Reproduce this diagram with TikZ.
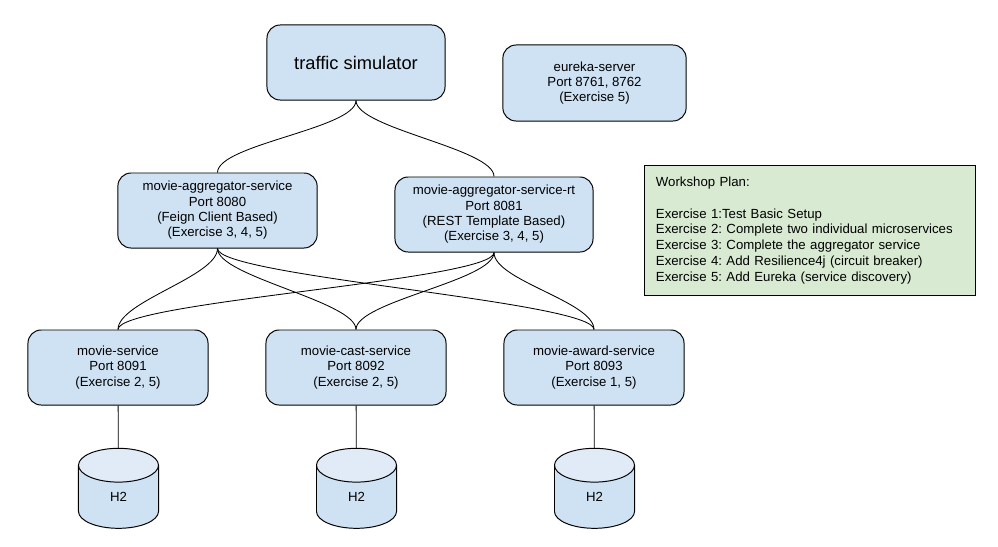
\documentclass[tikz,border=0pt]{standalone}
\usepackage{fontspec}
\setmainfont{Liberation Sans}
\usetikzlibrary{shapes.geometric}
\definecolor{boxblue}{RGB}{207,226,243}
\definecolor{dbtop}{RGB}{224,235,247}
\definecolor{plangreen}{RGB}{217,234,211}
\frenchspacing
\begin{document}
\begin{tikzpicture}[x=0.025cm,y=-0.025cm,
    svc/.style={draw,line width=0.7pt,rounded corners=0.33cm,fill=boxblue,align=center,
      font=\fontsize{9.4}{10.9}\selectfont,inner sep=0pt},
    db/.style={draw,line width=0.7pt,cylinder,shape border rotate=90,aspect=2,
      cylinder uses custom fill,cylinder body fill=boxblue,cylinder end fill=dbtop,
      minimum width=2cm,minimum height=2cm,inner sep=0pt,font=\fontsize{9.4}{10.9}\selectfont},
    link/.style={line width=0.6pt,out=-90,in=90,out distance=0.7cm,in distance=0.7cm}]
              \useasboundingbox (0,0) rectangle (998,546);
              % top row
              \node[svc,minimum width=4.45cm,minimum height=1.875cm,font=\fontsize{13}{15}\selectfont](ts)at(356,62.5){traffic simulator};
              \node[svc,minimum width=4.58cm,minimum height=1.9cm](eureka)at(594.5,83){eureka-server\\Port 8761, 8762\\(Exercise 5)};
              % aggregators
              \node[svc,minimum width=4.98cm,minimum height=1.875cm](agg)at(217.5,210.5){movie-aggregator-service\\Port 8080\\(Feign Client Based)\\(Exercise 3, 4, 5)};
              \node[svc,minimum width=4.95cm,minimum height=1.875cm](aggrt)at(494,214.5){movie-aggregator-service-rt\\Port 8081\\(REST Template Based)\\(Exercise 3, 4, 5)};
              % plan
              \node[draw,line width=0.7pt,fill=plangreen,minimum width=8.25cm,minimum height=3.225cm,
                text width=7.7cm,align=left,font=\fontsize{9.4}{11.3}\selectfont](plan)at(810,230.5)
                {Workshop Plan:\\[11.3pt]Exercise 1:Test Basic Setup\\Exercise 2: Complete two individual microservices\\Exercise 3: Complete the aggregator service\\Exercise 4: Add Resilience4j (circuit breaker)\\Exercise 5: Add Eureka (service discovery)};
              % services
              \node[svc,minimum width=4.5cm,minimum height=1.875cm](ms)at(118,367.5){movie-service\\Port 8091\\(Exercise 2, 5)};
              \node[svc,minimum width=4.5cm,minimum height=1.875cm](cast)at(356,367.5){movie-cast-service\\Port 8092\\(Exercise 2, 5)};
              \node[svc,minimum width=4.5cm,minimum height=1.875cm](award)at(594,367.5){movie-award-service\\Port 8093\\(Exercise 1, 5)};
              % databases
              \node[db](dbm)at(118.5,497){H2};
              \node[db](dbc)at(356.5,497){H2};
              \node[db](dba)at(594.5,497){H2};
              % links
              \draw[link](ts.south) to (agg.north);
              \draw[link](ts.south) to (aggrt.north);
              \foreach \s in {ms,cast,award}{
                \draw[link](agg.south) to (\s.north);
                \draw[link](aggrt.south) to (\s.north);
              }
              \draw[line width=0.6pt](ms)--(dbm);
              \draw[line width=0.6pt](cast)--(dbc);
              \draw[line width=0.6pt](award)--(dba);
            \end{tikzpicture}
\end{document}
